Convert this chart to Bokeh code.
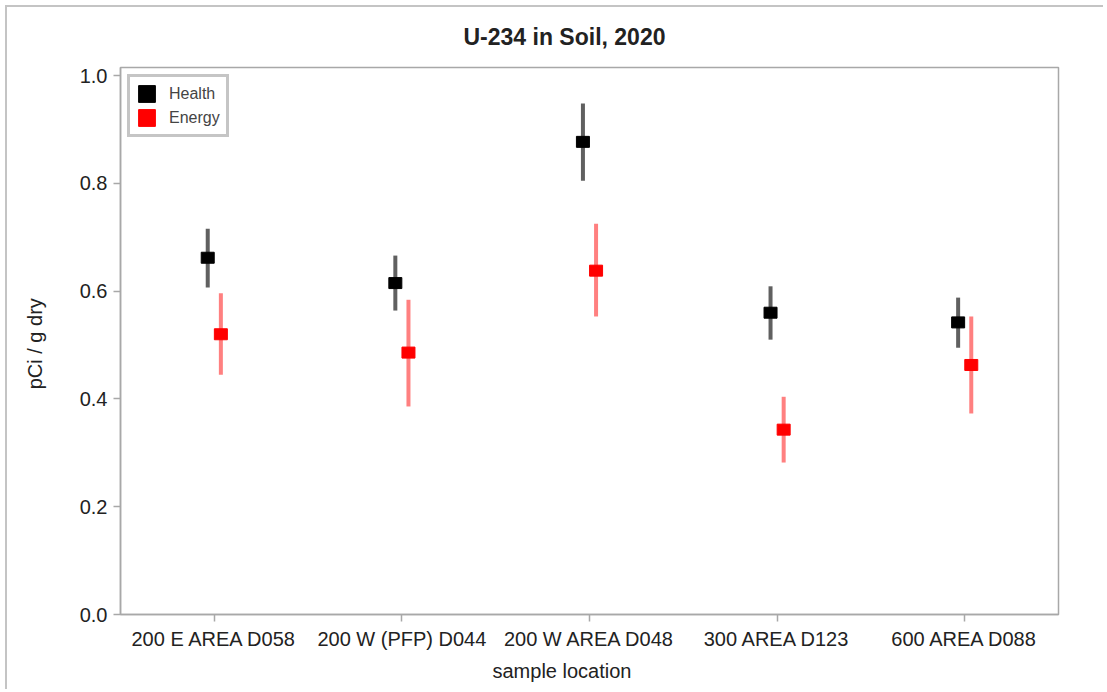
from bokeh.plotting import figure
from bokeh.models import (ColumnDataSource, Legend, LegendItem, FactorRange, Range1d,
                          NumeralTickFormatter, FixedTicker, Title)
from bokeh.transform import dodge
from bokeh.embed import file_html
from bokeh.resources import INLINE

locations = ["200 E AREA D058", "200 W (PFP) D044", "200 W AREA D048", "300 AREA D123", "600 AREA D088"]
health_mean = [0.662, 0.615, 0.877, 0.560, 0.542]
health_lo = [0.607, 0.564, 0.805, 0.510, 0.495]
health_hi = [0.716, 0.666, 0.948, 0.609, 0.588]
energy_mean = [0.520, 0.486, 0.638, 0.343, 0.463]
energy_lo = [0.445, 0.386, 0.553, 0.282, 0.373]
energy_hi = [0.596, 0.584, 0.725, 0.404, 0.553]

FONT = "Liberation Sans"

p = figure(x_range=FactorRange(*locations), y_range=Range1d(0, 1.015),
           width=1098, height=684, output_backend="svg", toolbar_location=None,
           min_border_left=113, min_border_right=47, min_border_top=60, min_border_bottom=77)
p.styles = {"margin-left": "5px", "margin-top": "5px",
            "border-left": "2px solid #c4c4c4", "border-top": "2px solid #c4c4c4"}

title = Title(text="U-234 in Soil, 2020", align="left", offset=343, vertical_align="top",
              text_font=FONT, text_font_size="23px", text_font_style="bold",
              text_color="#222222", standoff=31)
p.add_layout(title, "above")

xlabel = Title(text="sample location", align="left", offset=372, vertical_align="top",
               text_font=FONT, text_font_size="20px", text_font_style="normal",
               text_color="#222222", standoff=15)
p.add_layout(xlabel, "below")

hs = ColumnDataSource(dict(loc=locations, m=health_mean, lo=health_lo, hi=health_hi))
es = ColumnDataSource(dict(loc=locations, m=energy_mean, lo=energy_lo, hi=energy_hi))
hx = dodge("loc", -0.035, range=p.x_range)
ex = dodge("loc", 0.035, range=p.x_range)

p.segment(x0=hx, y0="lo", x1=hx, y1="hi", source=hs, line_color="#606060", line_width=4)
p.segment(x0=ex, y0="lo", x1=ex, y1="hi", source=es, line_color="#ff8080", line_width=4)
hr = p.rect(x=hx, y="m", width=13, height=11, width_units="screen", height_units="screen",
            source=hs, fill_color="black", line_color="black")
er = p.rect(x=ex, y="m", width=13, height=11, width_units="screen", height_units="screen",
            source=es, fill_color="red", line_color="red")

legend = Legend(items=[LegendItem(label="Health", renderers=[hr]),
                       LegendItem(label="Energy", renderers=[er])],
                location="top_left", margin=7, padding=6, spacing=3,
                glyph_width=21, glyph_height=21, label_standoff=12,
                label_text_font=FONT, label_text_font_size="16px", label_height=21,
                border_line_color="#8c8c8c", border_line_width=3,
                background_fill_alpha=1)
p.add_layout(legend, "center")

p.xgrid.visible = False
p.ygrid.visible = False
p.outline_line_color = "#a8a8a8"
p.outline_line_width = 1.5

for ax in (p.xaxis[0], p.yaxis[0]):
    ax.axis_line_color = "#a8a8a8"
    ax.axis_line_width = 1.5
    ax.major_tick_line_color = "#a8a8a8"
    ax.major_tick_line_width = 1.5
    ax.major_tick_out = 7
    ax.major_tick_in = 0
    ax.minor_tick_line_color = None
    ax.major_label_text_font = FONT
    ax.major_label_text_font_size = "20px"
    ax.major_label_text_color = "#222222"
    ax.axis_label_text_font = FONT
    ax.axis_label_text_font_size = "20px"
    ax.axis_label_text_font_style = "normal"
    ax.axis_label_text_color = "#222222"

p.yaxis.ticker = FixedTicker(ticks=[0, 0.2, 0.4, 0.6, 0.8, 1.0])
p.yaxis.formatter = NumeralTickFormatter(format="0.0")
p.yaxis.axis_label = "pCi / g  dry"
p.yaxis.major_label_standoff = 6
p.yaxis.axis_label_standoff = 31
p.xaxis.major_label_standoff = 6

p.border_fill_color = "white"

open("out.html", "w").write(file_html(p, INLINE))
